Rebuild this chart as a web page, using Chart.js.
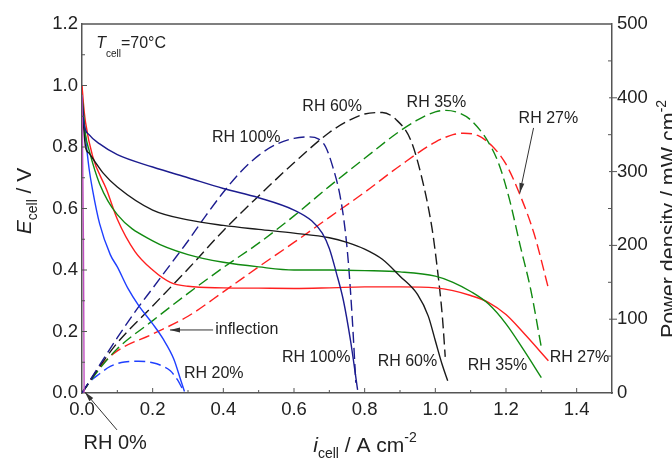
<!DOCTYPE html>
<html>
<head>
<meta charset="utf-8">
<script src="https://cdn.jsdelivr.net/npm/chart.js@4.4.1/dist/chart.umd.min.js"></script>
<style>
    html, body { margin: 0; padding: 0; background: #fff; }
    #chart-wrap { width: 672px; height: 463px; position: relative; }
</style>
</head>
<body>
<div id="chart-wrap"><canvas id="rhChart" width="672" height="463"></canvas></div>
<script>
// Polarization curves (E_cell in V) and power density curves (mW cm-2) for each relative humidity
const rh100Current = [0, 0.005, 0.02, 0.05, 0.1, 0.2, 0.3, 0.4, 0.5, 0.6, 0.65, 0.68, 0.70, 0.72, 0.74, 0.76, 0.78];
const rh100Voltage = [0.96, 0.88, 0.84, 0.81, 0.775, 0.735, 0.70, 0.665, 0.635, 0.595, 0.56, 0.52, 0.47, 0.39, 0.30, 0.17, 0.01];
const rh100PowCurrent = [0, 0.05, 0.1, 0.15, 0.2, 0.25, 0.3, 0.35, 0.4, 0.45, 0.5, 0.55, 0.6, 0.64, 0.67, 0.69, 0.71, 0.73, 0.745, 0.755, 0.765, 0.775];
const rh100Power = [0, 38, 75, 110, 142, 174, 206, 240, 272, 300, 322, 337, 345, 347, 344, 333, 306, 268, 220, 170, 100, 14];

const rh60Current = [0, 0.005, 0.01, 0.02, 0.035, 0.06, 0.1, 0.2, 0.3, 0.4, 0.5, 0.6, 0.7, 0.75, 0.8, 0.85, 0.9, 0.95, 0.98, 1.0, 1.02, 1.035];
const rh60Voltage = [0.96, 0.86, 0.80, 0.78, 0.755, 0.715, 0.67, 0.595, 0.563, 0.545, 0.532, 0.52, 0.505, 0.49, 0.468, 0.435, 0.38, 0.32, 0.25, 0.17, 0.09, 0.04];
const rh60PowCurrent = [0, 0.05, 0.1, 0.2, 0.3, 0.4, 0.5, 0.6, 0.7, 0.75, 0.8, 0.85, 0.89, 0.93, 0.96, 0.99, 1.005, 1.02, 1.028];
const rh60Power = [0, 36, 68, 118, 168, 220, 267, 312, 353, 368, 378, 380, 370, 343, 295, 225, 171, 103, 49];

const rh35Current = [0, 0.005, 0.01, 0.02, 0.05, 0.1, 0.2, 0.3, 0.4, 0.5, 0.6, 0.7, 0.8, 0.9, 1.0, 1.05, 1.1, 1.15, 1.2, 1.25, 1.3];
const rh35Voltage = [0.97, 0.90, 0.84, 0.79, 0.68, 0.58, 0.495, 0.45, 0.425, 0.41, 0.40, 0.40, 0.398, 0.394, 0.38, 0.36, 0.33, 0.29, 0.225, 0.14, 0.05];
const rh35PowCurrent = [0, 0.05, 0.1, 0.2, 0.3, 0.4, 0.5, 0.6, 0.7, 0.8, 0.9, 0.95, 1.0, 1.03, 1.07, 1.1, 1.15, 1.18, 1.21, 1.24, 1.27, 1.3];
const rh35Power = [0, 33, 60, 98, 135, 170, 203, 240, 280, 318, 355, 370, 381, 383, 379, 370, 340, 310, 262, 200, 140, 62];

const rh27Current = [0, 0.005, 0.01, 0.03, 0.07, 0.1, 0.15, 0.2, 0.25, 0.3, 0.4, 0.5, 0.6, 0.7, 0.8, 0.9, 1.0, 1.05, 1.1, 1.15, 1.2, 1.25, 1.32];
const rh27Voltage = [1.0, 0.93, 0.88, 0.77, 0.66, 0.565, 0.46, 0.40, 0.36, 0.347, 0.342, 0.341, 0.34, 0.342, 0.345, 0.345, 0.342, 0.333, 0.317, 0.295, 0.255, 0.195, 0.105];
const rh27PowCurrent = [0, 0.05, 0.1, 0.2, 0.3, 0.4, 0.5, 0.6, 0.7, 0.8, 0.9, 1.0, 1.05, 1.08, 1.12, 1.16, 1.2, 1.24, 1.28, 1.32];
const rh27Power = [0, 35, 57, 80, 104, 137, 171, 204, 238, 272, 308, 340, 350, 352, 349, 335, 310, 268, 215, 142];

const rh20Current = [0, 0.005, 0.01, 0.02, 0.03, 0.05, 0.08, 0.1, 0.13, 0.16, 0.2, 0.23, 0.26, 0.28, 0.29];
const rh20Voltage = [0.95, 0.88, 0.83, 0.73, 0.66, 0.55, 0.45, 0.41, 0.34, 0.285, 0.225, 0.175, 0.11, 0.04, 0.005];
const rh20PowCurrent = [0, 0.02, 0.05, 0.08, 0.12, 0.16, 0.2, 0.23, 0.25, 0.27, 0.285];
const rh20Power = [0, 14, 26, 36, 42, 43, 41, 36, 30, 18, 5];

const rh0Current = [0, 0.004, 0.006];
const rh0Voltage = [0.97, 0.5, 0];

// Tick values of the three axes
const currentTicks = [0, 0.2, 0.4, 0.6, 0.8, 1.0, 1.2, 1.4];
const voltageTicks = [0, 0.2, 0.4, 0.6, 0.8, 1.0, 1.2];
const powerTicks = [0, 100, 200, 300, 400, 500];

const FONT = '"Liberation Sans", Arial, sans-serif';
const TEXT_COLOR = '#222';
const AXIS_COLOR = '#555';

// Joins two value arrays into the {x, y} points chart.js wants for scatter lines
function toPoints(xs, ys) {
    return xs.map((x, i) => ({ x: x, y: ys[i] }));
}

function curve(xs, ys, color, axis, dashed) {
    return {
        data: toPoints(xs, ys),
        yAxisID: axis,
        showLine: true,
        borderColor: color,
        backgroundColor: color,
        borderWidth: 1.4,
        borderDash: dashed ? [11, 5] : [],
        pointRadius: 0,
        cubicInterpolationMode: 'monotone'
    };
}

// Draws a line of text made of several pieces (italic letter, subscript, superscript)
function drawParts(ctx, parts, x, y, rot, align) {
    ctx.save();
    ctx.translate(x, y);
    ctx.rotate(rot);
    ctx.textBaseline = 'alphabetic';
    ctx.textAlign = 'left';
    let total = 0;
    parts.forEach((p) => {
        ctx.font = (p.italic ? 'italic ' : '') + p.size + 'px ' + FONT;
        p.w = ctx.measureText(p.t).width;
        total += p.w;
    });
    let cx = align === 'center' ? -total / 2 : 0;
    parts.forEach((p) => {
        ctx.font = (p.italic ? 'italic ' : '') + p.size + 'px ' + FONT;
        ctx.fillText(p.t, cx, p.dy || 0);
        cx += p.w;
    });
    ctx.restore();
}

// Line with a small filled head at its end point
function drawArrow(ctx, x1, y1, x2, y2) {
    const ang = Math.atan2(y2 - y1, x2 - x1);
    ctx.save();
    ctx.strokeStyle = '#333';
    ctx.fillStyle = '#333';
    ctx.lineWidth = 1;
    ctx.beginPath();
    ctx.moveTo(x1, y1);
    ctx.lineTo(x2, y2);
    ctx.stroke();
    ctx.beginPath();
    ctx.moveTo(x2, y2);
    ctx.lineTo(x2 - 10 * Math.cos(ang) + 2.5 * Math.sin(ang), y2 - 10 * Math.sin(ang) - 2.5 * Math.cos(ang));
    ctx.lineTo(x2 - 10 * Math.cos(ang) - 2.5 * Math.sin(ang), y2 - 10 * Math.sin(ang) + 2.5 * Math.cos(ang));
    ctx.closePath();
    ctx.fill();
    ctx.restore();
}

// Curve labels, placed in data units (current, cell voltage)
const curveLabels = [
    { t: 'RH 100%', x: 0.465, y: 0.829 },
    { t: 'RH 60%', x: 0.708, y: 0.933 },
    { t: 'RH 35%', x: 1.003, y: 0.946 },
    { t: 'RH 27%', x: 1.320, y: 0.891 },
    { t: 'RH 20%', x: 0.373, y: 0.062 },
    { t: 'RH 100%', x: 0.663, y: 0.114 },
    { t: 'RH 60%', x: 0.921, y: 0.101 },
    { t: 'RH 35%', x: 1.176, y: 0.088 },
    { t: 'RH 27%', x: 1.408, y: 0.114 }
];

const annotationPlugin = {
    id: 'annotationPlugin',
    afterDraw: (chart) => {
        const ctx = chart.ctx;
        const area = chart.chartArea;
        const sx = chart.scales.x;
        const sy = chart.scales.y;
        const sp = chart.scales.y2;
        const px = (v) => sx.getPixelForValue(v);
        const py = (v) => sy.getPixelForValue(v);

        ctx.save();
        // Top frame line
        ctx.strokeStyle = AXIS_COLOR;
        ctx.lineWidth = 1.5;
        ctx.beginPath();
        ctx.moveTo(area.left, area.top);
        ctx.lineTo(area.right, area.top);
        ctx.stroke();

        // Tick marks: every 0.1 on x and left y (inward), every 50 on the right axis
        ctx.lineWidth = 1;
        ctx.beginPath();
        for (let k = 1; k <= 14; k++) {
            const x = px(k / 10);
            const len = k % 2 === 0 ? 5 : 3;
            ctx.moveTo(x, area.bottom);
            ctx.lineTo(x, area.bottom - len);
        }
        for (let k = 1; k <= 11; k++) {
            const y = py(k / 10);
            const len = k % 2 === 0 ? 5 : 3;
            ctx.moveTo(area.left, y);
            ctx.lineTo(area.left + len, y);
        }
        for (let k = 1; k <= 9; k++) {
            const y = sp.getPixelForValue(k * 50);
            if (k % 2 === 0) {
                ctx.moveTo(area.right - 3, y);
                ctx.lineTo(area.right + 5, y);
            } else {
                ctx.moveTo(area.right - 4, y);
                ctx.lineTo(area.right, y);
            }
        }
        ctx.stroke();

        // Curve labels
        ctx.fillStyle = TEXT_COLOR;
        ctx.font = '16px ' + FONT;
        ctx.textAlign = 'center';
        ctx.textBaseline = 'middle';
        curveLabels.forEach((l) => ctx.fillText(l.t, px(l.x), py(l.y)));
        ctx.textAlign = 'left';
        ctx.fillText('inflection', px(0.377), py(0.205));
        ctx.font = '20px ' + FONT;
        ctx.textAlign = 'center';
        ctx.fillText('RH 0%', px(0.094), py(-0.163));

        // Arrows to the curves
        drawArrow(ctx, px(1.278), py(0.862), px(1.239), py(0.650));
        drawArrow(ctx, px(0.371), py(0.205), px(0.249), py(0.205));
        drawArrow(ctx, px(0.099), py(-0.120), px(0.008), py(0.003));

        // Cell temperature note
        drawParts(ctx, [
            { t: 'T', size: 16, italic: true },
            { t: 'cell', size: 10, dy: 9 },
            { t: '=70°C', size: 16 }
        ], px(0.04), py(1.122), 0, 'left');

        // Axis titles
        drawParts(ctx, [
            { t: 'E', size: 21, italic: true },
            { t: 'cell', size: 14, dy: 6 },
            { t: ' / V', size: 21 }
        ], 31, 201, -Math.PI / 2, 'center');
        drawParts(ctx, [
            { t: 'i', size: 21, italic: true },
            { t: 'cell', size: 14, dy: 6 },
            { t: ' / A cm', size: 21 },
            { t: '-2', size: 14, dy: -10 }
        ], (area.left + area.right) / 2 + 18, 452, 0, 'center');
        drawParts(ctx, [
            { t: 'Power density / mW cm', size: 21.5 },
            { t: '-2', size: 14, dy: -10 }
        ], 676, 219, -Math.PI / 2, 'center');
        ctx.restore();
    }
};

function renderChart() {
    const ctx = document.getElementById('rhChart').getContext('2d');
    const tickFont = { family: FONT, size: 18.5 };

    new Chart(ctx, {
        type: 'scatter',
        data: {
            datasets: [
                curve(rh0Current, rh0Voltage, '#c04fc0', 'y', false),
                curve(rh100Current, rh100Voltage, '#1c1c8f', 'y', false),
                curve(rh60Current, rh60Voltage, '#1a1a1a', 'y', false),
                curve(rh35Current, rh35Voltage, '#118a11', 'y', false),
                curve(rh27Current, rh27Voltage, '#ff1f1f', 'y', false),
                curve(rh20Current, rh20Voltage, '#1f3fff', 'y', false),
                curve(rh100PowCurrent, rh100Power, '#1c1c8f', 'y2', true),
                curve(rh60PowCurrent, rh60Power, '#1a1a1a', 'y2', true),
                curve(rh35PowCurrent, rh35Power, '#118a11', 'y2', true),
                curve(rh27PowCurrent, rh27Power, '#ff1f1f', 'y2', true),
                curve(rh20PowCurrent, rh20Power, '#1f3fff', 'y2', true)
            ]
        },
        options: {
            responsive: false,
            animation: false,
            layout: { padding: { top: 24, left: 0, right: 0, bottom: 0 } },
            plugins: {
                legend: { display: false },
                tooltip: { enabled: false }
            },
            scales: {
                x: {
                    type: 'linear',
                    min: 0,
                    max: 1.5,
                    afterBuildTicks: (scale) => { scale.ticks = currentTicks.map((v) => ({ value: v })); },
                    afterFit: (scale) => { scale.height = 70; },
                    grid: { display: false, drawTicks: false },
                    border: { display: true, color: AXIS_COLOR, width: 1.5 },
                    ticks: {
                        font: tickFont, color: TEXT_COLOR, padding: 6,
                        maxRotation: 0, autoSkip: false,
                        callback: (v) => Number(v).toFixed(1)
                    }
                },
                y: {
                    type: 'linear',
                    position: 'left',
                    min: 0,
                    max: 1.2,
                    afterBuildTicks: (scale) => { scale.ticks = voltageTicks.map((v) => ({ value: v })); },
                    afterFit: (scale) => { scale.width = 82; },
                    grid: { display: false, drawTicks: false },
                    border: { display: true, color: AXIS_COLOR, width: 1.5 },
                    ticks: {
                        font: tickFont, color: TEXT_COLOR, padding: 4, autoSkip: false,
                        callback: (v) => Number(v).toFixed(1)
                    }
                },
                y2: {
                    type: 'linear',
                    position: 'right',
                    min: 0,
                    max: 500,
                    afterBuildTicks: (scale) => { scale.ticks = powerTicks.map((v) => ({ value: v })); },
                    afterFit: (scale) => { scale.width = 60; },
                    grid: { display: false, drawTicks: false },
                    border: { display: true, color: AXIS_COLOR, width: 1.5 },
                    ticks: { font: tickFont, color: TEXT_COLOR, padding: 5, autoSkip: false }
                }
            }
        },
        plugins: [annotationPlugin]
    });
}

renderChart();
</script>
</body>
</html>
